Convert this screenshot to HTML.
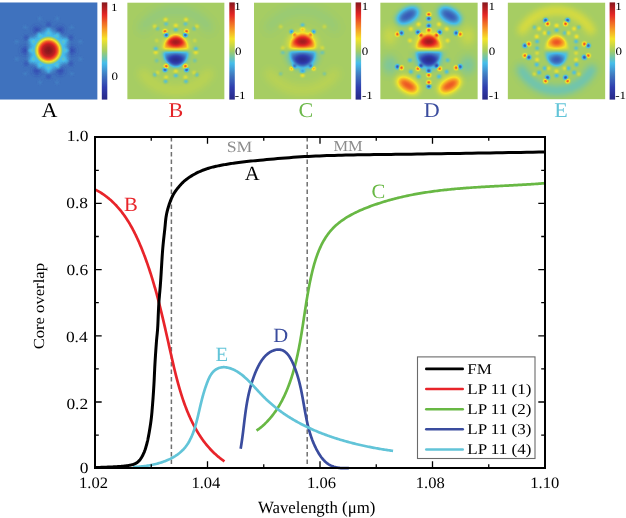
<!DOCTYPE html>
<html><head><meta charset="utf-8"><style>
html,body{margin:0;padding:0;background:#fff;width:626px;height:518px;overflow:hidden}
svg{display:block;font-family:"Liberation Serif",serif;text-rendering:geometricPrecision;will-change:transform}
</style></head><body>
<svg width="626" height="518" viewBox="0 0 626 518">
<defs><radialGradient id="coreG"><stop offset="0" stop-color="rgb(255,255,255)"/><stop offset="0.2" stop-color="rgb(250,250,250)"/><stop offset="0.41" stop-color="rgb(235,235,235)"/><stop offset="0.59" stop-color="rgb(204,204,204)"/><stop offset="0.72" stop-color="rgb(163,163,163)"/><stop offset="0.83" stop-color="rgb(128,128,128)"/><stop offset="0.93" stop-color="rgb(97,97,97)"/><stop offset="1" stop-color="rgb(92,92,92)" stop-opacity="0"/></radialGradient>
<radialGradient id="lobeW"><stop offset="0" stop-color="#fff" stop-opacity="0.93"/><stop offset="0.3" stop-color="#fff" stop-opacity="0.84"/><stop offset="0.55" stop-color="#fff" stop-opacity="0.6"/><stop offset="0.77" stop-color="#fff" stop-opacity="0.25"/><stop offset="0.885" stop-color="#fff" stop-opacity="0.08"/><stop offset="1" stop-color="#fff" stop-opacity="0"/></radialGradient><radialGradient id="lobeK"><stop offset="0" stop-color="#000" stop-opacity="0.93"/><stop offset="0.3" stop-color="#000" stop-opacity="0.84"/><stop offset="0.55" stop-color="#000" stop-opacity="0.6"/><stop offset="0.77" stop-color="#000" stop-opacity="0.25"/><stop offset="0.885" stop-color="#000" stop-opacity="0.08"/><stop offset="1" stop-color="#000" stop-opacity="0"/></radialGradient>
<radialGradient id="domeW" cx="0.5" cy="0.52" r="0.5"><stop offset="0" stop-color="#fff" stop-opacity="0.95"/><stop offset="0.3" stop-color="#fff" stop-opacity="0.85"/><stop offset="0.65" stop-color="#fff" stop-opacity="0.55"/><stop offset="1" stop-color="#fff" stop-opacity="0.3"/></radialGradient><radialGradient id="domeK" cx="0.5" cy="0.52" r="0.5"><stop offset="0" stop-color="#000" stop-opacity="0.95"/><stop offset="0.3" stop-color="#000" stop-opacity="0.85"/><stop offset="0.65" stop-color="#000" stop-opacity="0.55"/><stop offset="1" stop-color="#000" stop-opacity="0.3"/></radialGradient>
<linearGradient id="cbg" x1="0" y1="0" x2="0" y2="1"><stop offset="0" stop-color="#fff"/><stop offset="1" stop-color="#000"/></linearGradient>
<filter id="jet0" filterUnits="userSpaceOnUse" x="0.0" y="2.3" width="107.8" height="97.4" color-interpolation-filters="sRGB"><feComponentTransfer><feFuncR type="table" tableValues="0.1569 0.1647 0.1725 0.1804 0.1882 0.2049 0.2216 0.2382 0.2549 0.2598 0.2647 0.2696 0.2745 0.3676 0.4608 0.5539 0.6471 0.7255 0.8039 0.8824 0.9608 0.9608 0.9608 0.9608 0.9608 0.9441 0.9275 0.9108 0.8941 0.8029 0.7118 0.6206 0.5294"/><feFuncG type="table" tableValues="0.1569 0.1784 0.2000 0.2216 0.2431 0.3000 0.3569 0.4137 0.4706 0.5392 0.6078 0.6765 0.7451 0.7598 0.7745 0.7892 0.8039 0.8265 0.8490 0.8716 0.8941 0.8029 0.7118 0.6206 0.5294 0.4343 0.3392 0.2441 0.1490 0.1353 0.1216 0.1078 0.0941"/><feFuncB type="table" tableValues="0.5294 0.5686 0.6078 0.6471 0.6863 0.7029 0.7196 0.7363 0.7529 0.7951 0.8373 0.8794 0.9216 0.7892 0.6569 0.5245 0.3922 0.3333 0.2745 0.2157 0.1569 0.1549 0.1529 0.1510 0.1490 0.1471 0.1451 0.1431 0.1412 0.1353 0.1294 0.1235 0.1176"/></feComponentTransfer></filter>
<clipPath id="cp0"><rect x="0.0" y="2.3" width="97.6" height="97.4"/></clipPath>
<filter id="jet1" filterUnits="userSpaceOnUse" x="127.2" y="2.4" width="108.1" height="97.0" color-interpolation-filters="sRGB"><feComponentTransfer><feFuncR type="table" tableValues="0.1569 0.1647 0.1725 0.1804 0.1882 0.2049 0.2216 0.2382 0.2549 0.2598 0.2647 0.2696 0.2745 0.3676 0.4608 0.5539 0.6471 0.7255 0.8039 0.8824 0.9608 0.9608 0.9608 0.9608 0.9608 0.9441 0.9275 0.9108 0.8941 0.8029 0.7118 0.6206 0.5294"/><feFuncG type="table" tableValues="0.1569 0.1784 0.2000 0.2216 0.2431 0.3000 0.3569 0.4137 0.4706 0.5392 0.6078 0.6765 0.7451 0.7598 0.7745 0.7892 0.8039 0.8265 0.8490 0.8716 0.8941 0.8029 0.7118 0.6206 0.5294 0.4343 0.3392 0.2441 0.1490 0.1353 0.1216 0.1078 0.0941"/><feFuncB type="table" tableValues="0.5294 0.5686 0.6078 0.6471 0.6863 0.7029 0.7196 0.7363 0.7529 0.7951 0.8373 0.8794 0.9216 0.7892 0.6569 0.5245 0.3922 0.3333 0.2745 0.2157 0.1569 0.1549 0.1529 0.1510 0.1490 0.1471 0.1451 0.1431 0.1412 0.1353 0.1294 0.1235 0.1176"/></feComponentTransfer></filter>
<clipPath id="cp1"><rect x="127.2" y="2.4" width="97.4" height="97.0"/></clipPath>
<filter id="jet2" filterUnits="userSpaceOnUse" x="254.0" y="2.4" width="107.6" height="97.0" color-interpolation-filters="sRGB"><feComponentTransfer><feFuncR type="table" tableValues="0.1569 0.1647 0.1725 0.1804 0.1882 0.2049 0.2216 0.2382 0.2549 0.2598 0.2647 0.2696 0.2745 0.3676 0.4608 0.5539 0.6471 0.7255 0.8039 0.8824 0.9608 0.9608 0.9608 0.9608 0.9608 0.9441 0.9275 0.9108 0.8941 0.8029 0.7118 0.6206 0.5294"/><feFuncG type="table" tableValues="0.1569 0.1784 0.2000 0.2216 0.2431 0.3000 0.3569 0.4137 0.4706 0.5392 0.6078 0.6765 0.7451 0.7598 0.7745 0.7892 0.8039 0.8265 0.8490 0.8716 0.8941 0.8029 0.7118 0.6206 0.5294 0.4343 0.3392 0.2441 0.1490 0.1353 0.1216 0.1078 0.0941"/><feFuncB type="table" tableValues="0.5294 0.5686 0.6078 0.6471 0.6863 0.7029 0.7196 0.7363 0.7529 0.7951 0.8373 0.8794 0.9216 0.7892 0.6569 0.5245 0.3922 0.3333 0.2745 0.2157 0.1569 0.1549 0.1529 0.1510 0.1490 0.1471 0.1451 0.1431 0.1412 0.1353 0.1294 0.1235 0.1176"/></feComponentTransfer></filter>
<clipPath id="cp2"><rect x="254.0" y="2.4" width="97.4" height="97.0"/></clipPath>
<filter id="jet3" filterUnits="userSpaceOnUse" x="380.2" y="2.4" width="108.1" height="97.0" color-interpolation-filters="sRGB"><feComponentTransfer><feFuncR type="table" tableValues="0.1569 0.1647 0.1725 0.1804 0.1882 0.2049 0.2216 0.2382 0.2549 0.2598 0.2647 0.2696 0.2745 0.3676 0.4608 0.5539 0.6471 0.7255 0.8039 0.8824 0.9608 0.9608 0.9608 0.9608 0.9608 0.9441 0.9275 0.9108 0.8941 0.8029 0.7118 0.6206 0.5294"/><feFuncG type="table" tableValues="0.1569 0.1784 0.2000 0.2216 0.2431 0.3000 0.3569 0.4137 0.4706 0.5392 0.6078 0.6765 0.7451 0.7598 0.7745 0.7892 0.8039 0.8265 0.8490 0.8716 0.8941 0.8029 0.7118 0.6206 0.5294 0.4343 0.3392 0.2441 0.1490 0.1353 0.1216 0.1078 0.0941"/><feFuncB type="table" tableValues="0.5294 0.5686 0.6078 0.6471 0.6863 0.7029 0.7196 0.7363 0.7529 0.7951 0.8373 0.8794 0.9216 0.7892 0.6569 0.5245 0.3922 0.3333 0.2745 0.2157 0.1569 0.1549 0.1529 0.1510 0.1490 0.1471 0.1451 0.1431 0.1412 0.1353 0.1294 0.1235 0.1176"/></feComponentTransfer></filter>
<clipPath id="cp3"><rect x="380.2" y="2.4" width="97.6" height="97.0"/></clipPath>
<filter id="jet4" filterUnits="userSpaceOnUse" x="507.6" y="2.4" width="108.0" height="97.0" color-interpolation-filters="sRGB"><feComponentTransfer><feFuncR type="table" tableValues="0.1569 0.1647 0.1725 0.1804 0.1882 0.2049 0.2216 0.2382 0.2549 0.2598 0.2647 0.2696 0.2745 0.3676 0.4608 0.5539 0.6471 0.7255 0.8039 0.8824 0.9608 0.9608 0.9608 0.9608 0.9608 0.9441 0.9275 0.9108 0.8941 0.8029 0.7118 0.6206 0.5294"/><feFuncG type="table" tableValues="0.1569 0.1784 0.2000 0.2216 0.2431 0.3000 0.3569 0.4137 0.4706 0.5392 0.6078 0.6765 0.7451 0.7598 0.7745 0.7892 0.8039 0.8265 0.8490 0.8716 0.8941 0.8029 0.7118 0.6206 0.5294 0.4343 0.3392 0.2441 0.1490 0.1353 0.1216 0.1078 0.0941"/><feFuncB type="table" tableValues="0.5294 0.5686 0.6078 0.6471 0.6863 0.7029 0.7196 0.7363 0.7529 0.7951 0.8373 0.8794 0.9216 0.7892 0.6569 0.5245 0.3922 0.3333 0.2745 0.2157 0.1569 0.1549 0.1529 0.1510 0.1490 0.1471 0.1451 0.1431 0.1412 0.1353 0.1294 0.1235 0.1176"/></feComponentTransfer></filter>
<clipPath id="cp4"><rect x="507.6" y="2.4" width="97.8" height="97.0"/></clipPath>
<filter id="bl9" x="-100%" y="-100%" width="300%" height="300%"><feGaussianBlur stdDeviation="0.9"/></filter><filter id="bl10" x="-100%" y="-100%" width="300%" height="300%"><feGaussianBlur stdDeviation="1.0"/></filter><filter id="bl12" x="-100%" y="-100%" width="300%" height="300%"><feGaussianBlur stdDeviation="1.2"/></filter><filter id="bl15" x="-100%" y="-100%" width="300%" height="300%"><feGaussianBlur stdDeviation="1.5"/></filter><filter id="bl20" x="-100%" y="-100%" width="300%" height="300%"><feGaussianBlur stdDeviation="2.0"/></filter><filter id="bl25" x="-100%" y="-100%" width="300%" height="300%"><feGaussianBlur stdDeviation="2.5"/></filter><filter id="bl33" x="-100%" y="-100%" width="300%" height="300%"><feGaussianBlur stdDeviation="3.3"/></filter><filter id="bl35" x="-100%" y="-100%" width="300%" height="300%"><feGaussianBlur stdDeviation="3.5"/></filter><filter id="bl40" x="-100%" y="-100%" width="300%" height="300%"><feGaussianBlur stdDeviation="4.0"/></filter>
<filter id="bx15y12" x="-100%" y="-100%" width="300%" height="300%"><feGaussianBlur stdDeviation="1.5 1.2"/></filter><filter id="bx16y13" x="-100%" y="-100%" width="300%" height="300%"><feGaussianBlur stdDeviation="1.6 1.3"/></filter><filter id="bx18y14" x="-100%" y="-100%" width="300%" height="300%"><feGaussianBlur stdDeviation="1.8 1.4"/></filter><filter id="bx30y22" x="-100%" y="-100%" width="300%" height="300%"><feGaussianBlur stdDeviation="3.0 2.2"/></filter><filter id="bx30y25" x="-100%" y="-100%" width="300%" height="300%"><feGaussianBlur stdDeviation="3.0 2.5"/></filter><filter id="bx35y25" x="-100%" y="-100%" width="300%" height="300%"><feGaussianBlur stdDeviation="3.5 2.5"/></filter></defs>
<g filter="url(#jet0)"><g clip-path="url(#cp0)"><rect x="0.0" y="2.3" width="97.6" height="97.4" fill="rgb(61,61,61)"/><circle cx="72.00" cy="50.40" r="3.5" fill="rgb(38,38,38)" filter="url(#bl20)"/><circle cx="60.25" cy="70.75" r="3.5" fill="rgb(38,38,38)" filter="url(#bl20)"/><circle cx="36.75" cy="70.75" r="3.5" fill="rgb(38,38,38)" filter="url(#bl20)"/><circle cx="25.00" cy="50.40" r="3.5" fill="rgb(38,38,38)" filter="url(#bl20)"/><circle cx="36.75" cy="30.05" r="3.5" fill="rgb(38,38,38)" filter="url(#bl20)"/><circle cx="60.25" cy="30.05" r="3.5" fill="rgb(38,38,38)" filter="url(#bl20)"/><circle cx="48.50" cy="24.40" r="2.5" fill="rgb(46,46,46)" filter="url(#bl15)"/><circle cx="71.02" cy="37.40" r="2.5" fill="rgb(46,46,46)" filter="url(#bl15)"/><circle cx="71.02" cy="63.40" r="2.5" fill="rgb(46,46,46)" filter="url(#bl15)"/><circle cx="48.50" cy="76.40" r="2.5" fill="rgb(46,46,46)" filter="url(#bl15)"/><circle cx="25.98" cy="63.40" r="2.5" fill="rgb(46,46,46)" filter="url(#bl15)"/><circle cx="25.98" cy="37.40" r="2.5" fill="rgb(46,46,46)" filter="url(#bl15)"/><circle cx="57.04" cy="18.52" r="1.6" fill="rgb(71,71,71)" filter="url(#bl10)"/><circle cx="71.83" cy="27.07" r="1.6" fill="rgb(71,71,71)" filter="url(#bl10)"/><circle cx="80.38" cy="41.86" r="1.6" fill="rgb(71,71,71)" filter="url(#bl10)"/><circle cx="80.38" cy="58.94" r="1.6" fill="rgb(71,71,71)" filter="url(#bl10)"/><circle cx="71.83" cy="73.73" r="1.6" fill="rgb(71,71,71)" filter="url(#bl10)"/><circle cx="57.04" cy="82.28" r="1.6" fill="rgb(71,71,71)" filter="url(#bl10)"/><circle cx="39.96" cy="82.28" r="1.6" fill="rgb(71,71,71)" filter="url(#bl10)"/><circle cx="25.17" cy="73.73" r="1.6" fill="rgb(71,71,71)" filter="url(#bl10)"/><circle cx="16.62" cy="58.94" r="1.6" fill="rgb(71,71,71)" filter="url(#bl10)"/><circle cx="16.62" cy="41.86" r="1.6" fill="rgb(71,71,71)" filter="url(#bl10)"/><circle cx="25.17" cy="27.07" r="1.6" fill="rgb(71,71,71)" filter="url(#bl10)"/><circle cx="39.96" cy="18.52" r="1.6" fill="rgb(71,71,71)" filter="url(#bl10)"/><polygon points="48.50,28.90 67.12,39.65 67.12,61.15 48.50,71.90 29.88,61.15 29.88,39.65" fill="rgb(94,94,94)" filter="url(#bl20)"/><circle cx="48.50" cy="29.90" r="2.0" fill="rgb(92,92,92)" filter="url(#bl12)"/><circle cx="57.75" cy="34.38" r="2.0" fill="rgb(92,92,92)" filter="url(#bl12)"/><circle cx="66.25" cy="40.15" r="2.0" fill="rgb(92,92,92)" filter="url(#bl12)"/><circle cx="67.00" cy="50.40" r="2.0" fill="rgb(92,92,92)" filter="url(#bl12)"/><circle cx="66.25" cy="60.65" r="2.0" fill="rgb(92,92,92)" filter="url(#bl12)"/><circle cx="57.75" cy="66.42" r="2.0" fill="rgb(92,92,92)" filter="url(#bl12)"/><circle cx="48.50" cy="70.90" r="2.0" fill="rgb(92,92,92)" filter="url(#bl12)"/><circle cx="39.25" cy="66.42" r="2.0" fill="rgb(92,92,92)" filter="url(#bl12)"/><circle cx="30.75" cy="60.65" r="2.0" fill="rgb(92,92,92)" filter="url(#bl12)"/><circle cx="30.00" cy="50.40" r="2.0" fill="rgb(92,92,92)" filter="url(#bl12)"/><circle cx="30.75" cy="40.15" r="2.0" fill="rgb(92,92,92)" filter="url(#bl12)"/><circle cx="39.25" cy="34.38" r="2.0" fill="rgb(92,92,92)" filter="url(#bl12)"/><circle cx="48.50" cy="32.90" r="1.7" fill="rgb(110,110,110)" filter="url(#bl10)"/><circle cx="56.50" cy="36.54" r="1.7" fill="rgb(110,110,110)" filter="url(#bl10)"/><circle cx="63.66" cy="41.65" r="1.7" fill="rgb(110,110,110)" filter="url(#bl10)"/><circle cx="64.50" cy="50.40" r="1.7" fill="rgb(110,110,110)" filter="url(#bl10)"/><circle cx="63.66" cy="59.15" r="1.7" fill="rgb(110,110,110)" filter="url(#bl10)"/><circle cx="56.50" cy="64.26" r="1.7" fill="rgb(110,110,110)" filter="url(#bl10)"/><circle cx="48.50" cy="67.90" r="1.7" fill="rgb(110,110,110)" filter="url(#bl10)"/><circle cx="40.50" cy="64.26" r="1.7" fill="rgb(110,110,110)" filter="url(#bl10)"/><circle cx="33.34" cy="59.15" r="1.7" fill="rgb(110,110,110)" filter="url(#bl10)"/><circle cx="32.50" cy="50.40" r="1.7" fill="rgb(110,110,110)" filter="url(#bl10)"/><circle cx="33.34" cy="41.65" r="1.7" fill="rgb(110,110,110)" filter="url(#bl10)"/><circle cx="40.50" cy="36.54" r="1.7" fill="rgb(110,110,110)" filter="url(#bl10)"/><circle cx="48.50" cy="50.40" r="15.5" fill="url(#coreG)"/></g><rect x="101.8" y="2.4" width="5.5" height="97.2" fill="url(#cbg)"/></g>
<g filter="url(#jet1)"><g clip-path="url(#cp1)"><rect x="127.2" y="2.4" width="97.4" height="97.0" fill="rgb(128,128,128)"/><path d="M161.30,49.45 C161.30,42.22 170.00,32.05 175.80,32.05 C181.60,32.05 190.30,42.22 190.30,49.45 Z" fill="url(#domeW)" opacity="0.380" filter="url(#bx30y22)"/><path d="M161.30,51.65 C161.30,58.88 170.00,69.05 175.80,69.05 C181.60,69.05 190.30,58.88 190.30,51.65 Z" fill="url(#domeK)" opacity="0.380" filter="url(#bx30y22)"/><path d="M163.40,48.95 C163.15,43.44 171.09,34.75 175.80,34.75 C180.51,34.75 188.45,43.44 188.20,48.95 Z" fill="url(#domeW)" opacity="1.000" filter="url(#bx15y12)"/><path d="M163.40,52.15 C163.15,57.66 171.09,66.35 175.80,66.35 C180.51,66.35 188.45,57.66 188.20,52.15 Z" fill="url(#domeK)" opacity="1.000" filter="url(#bx15y12)"/><ellipse cx="165.05" cy="31.45" rx="1.70" ry="1.70" fill="#fff" fill-opacity="1.000" filter="url(#bl9)"/><ellipse cx="165.05" cy="69.65" rx="1.70" ry="1.70" fill="#000" fill-opacity="1.000" filter="url(#bl9)"/><ellipse cx="186.55" cy="31.45" rx="1.70" ry="1.70" fill="#fff" fill-opacity="1.000" filter="url(#bl9)"/><ellipse cx="186.55" cy="69.65" rx="1.70" ry="1.70" fill="#000" fill-opacity="1.000" filter="url(#bl9)"/><ellipse cx="166.25" cy="34.95" rx="1.70" ry="1.70" fill="#000" fill-opacity="1.000" filter="url(#bl9)"/><ellipse cx="166.25" cy="66.15" rx="1.70" ry="1.70" fill="#fff" fill-opacity="1.000" filter="url(#bl9)"/><ellipse cx="185.35" cy="34.95" rx="1.70" ry="1.70" fill="#000" fill-opacity="1.000" filter="url(#bl9)"/><ellipse cx="185.35" cy="66.15" rx="1.70" ry="1.70" fill="#fff" fill-opacity="1.000" filter="url(#bl9)"/><ellipse cx="165.60" cy="19.65" rx="1.80" ry="1.60" fill="#fff" fill-opacity="0.350" filter="url(#bl10)"/><ellipse cx="165.60" cy="81.45" rx="1.80" ry="1.60" fill="#000" fill-opacity="0.350" filter="url(#bl10)"/><ellipse cx="186.00" cy="19.65" rx="1.80" ry="1.60" fill="#fff" fill-opacity="0.350" filter="url(#bl10)"/><ellipse cx="186.00" cy="81.45" rx="1.80" ry="1.60" fill="#000" fill-opacity="0.350" filter="url(#bl10)"/><ellipse cx="175.80" cy="25.55" rx="1.90" ry="1.50" fill="#fff" fill-opacity="0.350" filter="url(#bl10)"/><ellipse cx="175.80" cy="75.55" rx="1.90" ry="1.50" fill="#000" fill-opacity="0.350" filter="url(#bl10)"/><ellipse cx="154.80" cy="26.35" rx="1.70" ry="1.70" fill="#fff" fill-opacity="0.300" filter="url(#bl10)"/><ellipse cx="154.80" cy="74.75" rx="1.70" ry="1.70" fill="#000" fill-opacity="0.300" filter="url(#bl10)"/><ellipse cx="196.80" cy="26.35" rx="1.70" ry="1.70" fill="#fff" fill-opacity="0.300" filter="url(#bl10)"/><ellipse cx="196.80" cy="74.75" rx="1.70" ry="1.70" fill="#000" fill-opacity="0.300" filter="url(#bl10)"/><ellipse cx="155.80" cy="52.25" rx="1.90" ry="1.60" fill="#fff" fill-opacity="0.350" filter="url(#bl10)"/><ellipse cx="155.80" cy="48.85" rx="1.90" ry="1.60" fill="#000" fill-opacity="0.350" filter="url(#bl10)"/><ellipse cx="195.80" cy="52.25" rx="1.90" ry="1.60" fill="#fff" fill-opacity="0.350" filter="url(#bl10)"/><ellipse cx="195.80" cy="48.85" rx="1.90" ry="1.60" fill="#000" fill-opacity="0.350" filter="url(#bl10)"/><ellipse cx="166.10" cy="23.95" rx="1.80" ry="1.40" fill="#000" fill-opacity="0.300" filter="url(#bl10)"/><ellipse cx="166.10" cy="77.15" rx="1.80" ry="1.40" fill="#fff" fill-opacity="0.300" filter="url(#bl10)"/><ellipse cx="185.50" cy="23.95" rx="1.80" ry="1.40" fill="#000" fill-opacity="0.300" filter="url(#bl10)"/><ellipse cx="185.50" cy="77.15" rx="1.80" ry="1.40" fill="#fff" fill-opacity="0.300" filter="url(#bl10)"/><ellipse cx="175.80" cy="29.95" rx="2.00" ry="1.40" fill="#000" fill-opacity="0.350" filter="url(#bl10)"/><ellipse cx="175.80" cy="71.15" rx="2.00" ry="1.40" fill="#fff" fill-opacity="0.350" filter="url(#bl10)"/><ellipse cx="157.50" cy="28.55" rx="1.60" ry="1.60" fill="#000" fill-opacity="0.250" filter="url(#bl10)"/><ellipse cx="157.50" cy="72.55" rx="1.60" ry="1.60" fill="#fff" fill-opacity="0.250" filter="url(#bl10)"/><ellipse cx="194.10" cy="28.55" rx="1.60" ry="1.60" fill="#000" fill-opacity="0.250" filter="url(#bl10)"/><ellipse cx="194.10" cy="72.55" rx="1.60" ry="1.60" fill="#fff" fill-opacity="0.250" filter="url(#bl10)"/><ellipse cx="156.80" cy="40.55" rx="1.60" ry="1.60" fill="#fff" fill-opacity="0.200" filter="url(#bl10)"/><ellipse cx="156.80" cy="60.55" rx="1.60" ry="1.60" fill="#000" fill-opacity="0.200" filter="url(#bl10)"/><ellipse cx="194.80" cy="40.55" rx="1.60" ry="1.60" fill="#fff" fill-opacity="0.200" filter="url(#bl10)"/><ellipse cx="194.80" cy="60.55" rx="1.60" ry="1.60" fill="#000" fill-opacity="0.200" filter="url(#bl10)"/><path d="M143.03,27.56 A40.00,40.00 0 0 1 208.57,27.56" fill="none" stroke="#000" stroke-opacity="0.050" stroke-width="10.0" stroke-linecap="round" filter="url(#bl40)"/><path d="M208.57,73.44 A40.00,40.00 0 0 1 143.03,73.44" fill="none" stroke="#fff" stroke-opacity="0.080" stroke-width="10.0" stroke-linecap="round" filter="url(#bl40)"/></g><rect x="229.3" y="2.4" width="5.5" height="97.2" fill="url(#cbg)"/></g>
<g filter="url(#jet2)"><g clip-path="url(#cp2)"><rect x="254.0" y="2.4" width="97.4" height="97.0" fill="rgb(128,128,128)"/><path d="M286.10,49.20 C286.10,39.95 294.35,29.70 302.60,29.70 C310.85,29.70 319.10,39.95 319.10,49.20 Z" fill="url(#domeW)" opacity="0.450" filter="url(#bx35y25)"/><path d="M286.10,51.20 C286.10,60.45 294.35,70.70 302.60,70.70 C310.85,70.70 319.10,60.45 319.10,51.20 Z" fill="url(#domeK)" opacity="0.450" filter="url(#bx35y25)"/><path d="M289.80,48.80 C289.54,42.05 296.46,33.90 302.60,33.90 C308.74,33.90 315.66,42.05 315.40,48.80 Z" fill="url(#domeW)" opacity="1.000" filter="url(#bx18y14)"/><path d="M289.80,51.60 C289.54,58.35 296.46,66.50 302.60,66.50 C308.74,66.50 315.66,58.35 315.40,51.60 Z" fill="url(#domeK)" opacity="1.000" filter="url(#bx18y14)"/><ellipse cx="291.60" cy="31.80" rx="1.50" ry="1.50" fill="#000" fill-opacity="0.750" filter="url(#bl9)"/><ellipse cx="291.60" cy="68.60" rx="1.50" ry="1.50" fill="#fff" fill-opacity="0.750" filter="url(#bl9)"/><ellipse cx="313.60" cy="31.80" rx="1.50" ry="1.50" fill="#000" fill-opacity="0.750" filter="url(#bl9)"/><ellipse cx="313.60" cy="68.60" rx="1.50" ry="1.50" fill="#fff" fill-opacity="0.750" filter="url(#bl9)"/><ellipse cx="294.40" cy="34.40" rx="1.50" ry="1.50" fill="#fff" fill-opacity="0.750" filter="url(#bl9)"/><ellipse cx="294.40" cy="66.00" rx="1.50" ry="1.50" fill="#000" fill-opacity="0.750" filter="url(#bl9)"/><ellipse cx="310.80" cy="34.40" rx="1.50" ry="1.50" fill="#fff" fill-opacity="0.750" filter="url(#bl9)"/><ellipse cx="310.80" cy="66.00" rx="1.50" ry="1.50" fill="#000" fill-opacity="0.750" filter="url(#bl9)"/><ellipse cx="302.60" cy="25.10" rx="1.80" ry="1.50" fill="#000" fill-opacity="0.350" filter="url(#bl10)"/><ellipse cx="302.60" cy="75.30" rx="1.80" ry="1.50" fill="#fff" fill-opacity="0.350" filter="url(#bl10)"/><ellipse cx="302.60" cy="29.20" rx="2.20" ry="1.60" fill="#fff" fill-opacity="0.400" filter="url(#bl10)"/><ellipse cx="302.60" cy="71.20" rx="2.20" ry="1.60" fill="#000" fill-opacity="0.400" filter="url(#bl10)"/><ellipse cx="280.70" cy="26.60" rx="1.60" ry="1.60" fill="#fff" fill-opacity="0.200" filter="url(#bl10)"/><ellipse cx="280.70" cy="73.80" rx="1.60" ry="1.60" fill="#000" fill-opacity="0.200" filter="url(#bl10)"/><ellipse cx="324.50" cy="26.60" rx="1.60" ry="1.60" fill="#fff" fill-opacity="0.200" filter="url(#bl10)"/><ellipse cx="324.50" cy="73.80" rx="1.60" ry="1.60" fill="#000" fill-opacity="0.200" filter="url(#bl10)"/><ellipse cx="282.80" cy="47.90" rx="1.80" ry="1.60" fill="#fff" fill-opacity="0.200" filter="url(#bl10)"/><ellipse cx="282.80" cy="52.50" rx="1.80" ry="1.60" fill="#000" fill-opacity="0.200" filter="url(#bl10)"/><ellipse cx="322.40" cy="47.90" rx="1.80" ry="1.60" fill="#fff" fill-opacity="0.200" filter="url(#bl10)"/><ellipse cx="322.40" cy="52.50" rx="1.80" ry="1.60" fill="#000" fill-opacity="0.200" filter="url(#bl10)"/><path d="M269.53,27.56 A40.00,40.00 0 0 1 335.07,27.56" fill="none" stroke="#000" stroke-opacity="0.040" stroke-width="10.0" stroke-linecap="round" filter="url(#bl40)"/><path d="M335.07,73.44 A40.00,40.00 0 0 1 269.53,73.44" fill="none" stroke="#fff" stroke-opacity="0.070" stroke-width="10.0" stroke-linecap="round" filter="url(#bl40)"/></g><rect x="355.6" y="2.4" width="5.5" height="97.2" fill="url(#cbg)"/></g>
<g filter="url(#jet3)"><g clip-path="url(#cp3)"><rect x="380.2" y="2.4" width="97.6" height="97.0" fill="rgb(128,128,128)"/><path d="M412.80,49.40 C412.80,39.90 421.60,29.40 428.80,29.40 C436.00,29.40 444.80,39.90 444.80,49.40 Z" fill="url(#domeW)" opacity="0.400" filter="url(#bx30y25)"/><path d="M412.80,51.40 C412.80,60.90 421.60,71.40 428.80,71.40 C436.00,71.40 444.80,60.90 444.80,51.40 Z" fill="url(#domeK)" opacity="0.400" filter="url(#bx30y25)"/><path d="M416.30,48.80 C416.05,42.98 423.80,33.90 428.80,33.90 C433.80,33.90 441.55,42.98 441.30,48.80 Z" fill="url(#domeW)" opacity="1.000" filter="url(#bx16y13)"/><path d="M416.30,52.00 C416.05,57.82 423.80,66.90 428.80,66.90 C433.80,66.90 441.55,57.82 441.30,52.00 Z" fill="url(#domeK)" opacity="1.000" filter="url(#bx16y13)"/><ellipse cx="407.80" cy="15.60" rx="11.50" ry="5.80" fill="#000" fill-opacity="0.680" filter="url(#bl33)" transform="rotate(-31.0 407.80 15.60)"/><ellipse cx="407.80" cy="85.20" rx="11.50" ry="5.80" fill="#fff" fill-opacity="0.680" filter="url(#bl33)" transform="rotate(31.0 407.80 85.20)"/><ellipse cx="449.80" cy="15.60" rx="11.50" ry="5.80" fill="#000" fill-opacity="0.680" filter="url(#bl33)" transform="rotate(31.0 449.80 15.60)"/><ellipse cx="449.80" cy="85.20" rx="11.50" ry="5.80" fill="#fff" fill-opacity="0.680" filter="url(#bl33)" transform="rotate(-31.0 449.80 85.20)"/><ellipse cx="397.60" cy="34.10" rx="1.70" ry="1.70" fill="#fff" fill-opacity="1.000" filter="url(#bl9)"/><ellipse cx="397.60" cy="66.70" rx="1.70" ry="1.70" fill="#000" fill-opacity="1.000" filter="url(#bl9)"/><ellipse cx="460.00" cy="34.10" rx="1.70" ry="1.70" fill="#fff" fill-opacity="1.000" filter="url(#bl9)"/><ellipse cx="460.00" cy="66.70" rx="1.70" ry="1.70" fill="#000" fill-opacity="1.000" filter="url(#bl9)"/><ellipse cx="401.40" cy="33.00" rx="1.70" ry="1.70" fill="#000" fill-opacity="1.000" filter="url(#bl9)"/><ellipse cx="401.40" cy="67.80" rx="1.70" ry="1.70" fill="#fff" fill-opacity="1.000" filter="url(#bl9)"/><ellipse cx="456.20" cy="33.00" rx="1.70" ry="1.70" fill="#000" fill-opacity="1.000" filter="url(#bl9)"/><ellipse cx="456.20" cy="67.80" rx="1.70" ry="1.70" fill="#fff" fill-opacity="1.000" filter="url(#bl9)"/><ellipse cx="428.80" cy="14.50" rx="1.70" ry="1.70" fill="#fff" fill-opacity="1.000" filter="url(#bl9)"/><ellipse cx="428.80" cy="86.30" rx="1.70" ry="1.70" fill="#000" fill-opacity="1.000" filter="url(#bl9)"/><ellipse cx="428.80" cy="18.40" rx="1.70" ry="1.70" fill="#000" fill-opacity="1.000" filter="url(#bl9)"/><ellipse cx="428.80" cy="82.40" rx="1.70" ry="1.70" fill="#fff" fill-opacity="1.000" filter="url(#bl9)"/><ellipse cx="428.80" cy="25.90" rx="1.70" ry="1.70" fill="#000" fill-opacity="1.000" filter="url(#bl9)"/><ellipse cx="428.80" cy="74.90" rx="1.70" ry="1.70" fill="#fff" fill-opacity="1.000" filter="url(#bl9)"/><ellipse cx="428.80" cy="29.90" rx="1.70" ry="1.70" fill="#fff" fill-opacity="1.000" filter="url(#bl9)"/><ellipse cx="428.80" cy="70.90" rx="1.70" ry="1.70" fill="#000" fill-opacity="1.000" filter="url(#bl9)"/><ellipse cx="418.00" cy="32.20" rx="1.70" ry="1.70" fill="#000" fill-opacity="1.000" filter="url(#bl9)"/><ellipse cx="418.00" cy="68.60" rx="1.70" ry="1.70" fill="#fff" fill-opacity="1.000" filter="url(#bl9)"/><ellipse cx="439.60" cy="32.20" rx="1.70" ry="1.70" fill="#000" fill-opacity="1.000" filter="url(#bl9)"/><ellipse cx="439.60" cy="68.60" rx="1.70" ry="1.70" fill="#fff" fill-opacity="1.000" filter="url(#bl9)"/><ellipse cx="420.90" cy="35.10" rx="1.70" ry="1.70" fill="#fff" fill-opacity="1.000" filter="url(#bl9)"/><ellipse cx="420.90" cy="65.70" rx="1.70" ry="1.70" fill="#000" fill-opacity="1.000" filter="url(#bl9)"/><ellipse cx="436.70" cy="35.10" rx="1.70" ry="1.70" fill="#fff" fill-opacity="1.000" filter="url(#bl9)"/><ellipse cx="436.70" cy="65.70" rx="1.70" ry="1.70" fill="#000" fill-opacity="1.000" filter="url(#bl9)"/><ellipse cx="410.90" cy="29.00" rx="1.80" ry="1.80" fill="#fff" fill-opacity="0.350" filter="url(#bl10)"/><ellipse cx="410.90" cy="71.80" rx="1.80" ry="1.80" fill="#000" fill-opacity="0.350" filter="url(#bl10)"/><ellipse cx="446.70" cy="29.00" rx="1.80" ry="1.80" fill="#fff" fill-opacity="0.350" filter="url(#bl10)"/><ellipse cx="446.70" cy="71.80" rx="1.80" ry="1.80" fill="#000" fill-opacity="0.350" filter="url(#bl10)"/><ellipse cx="418.60" cy="24.20" rx="1.80" ry="1.80" fill="#fff" fill-opacity="0.350" filter="url(#bl10)"/><ellipse cx="418.60" cy="76.60" rx="1.80" ry="1.80" fill="#000" fill-opacity="0.350" filter="url(#bl10)"/><ellipse cx="439.00" cy="24.20" rx="1.80" ry="1.80" fill="#fff" fill-opacity="0.350" filter="url(#bl10)"/><ellipse cx="439.00" cy="76.60" rx="1.80" ry="1.80" fill="#000" fill-opacity="0.350" filter="url(#bl10)"/><ellipse cx="409.90" cy="40.60" rx="1.80" ry="1.80" fill="#fff" fill-opacity="0.300" filter="url(#bl10)"/><ellipse cx="409.90" cy="60.20" rx="1.80" ry="1.80" fill="#000" fill-opacity="0.300" filter="url(#bl10)"/><ellipse cx="447.70" cy="40.60" rx="1.80" ry="1.80" fill="#fff" fill-opacity="0.300" filter="url(#bl10)"/><ellipse cx="447.70" cy="60.20" rx="1.80" ry="1.80" fill="#000" fill-opacity="0.300" filter="url(#bl10)"/><ellipse cx="389.80" cy="35.80" rx="7.00" ry="9.00" fill="#fff" fill-opacity="0.120" filter="url(#bl40)"/><ellipse cx="389.80" cy="65.00" rx="7.00" ry="9.00" fill="#000" fill-opacity="0.120" filter="url(#bl40)"/><ellipse cx="467.80" cy="35.80" rx="7.00" ry="9.00" fill="#fff" fill-opacity="0.120" filter="url(#bl40)"/><ellipse cx="467.80" cy="65.00" rx="7.00" ry="9.00" fill="#000" fill-opacity="0.120" filter="url(#bl40)"/></g><rect x="482.3" y="2.4" width="5.5" height="97.2" fill="url(#cbg)"/></g>
<g filter="url(#jet4)"><g clip-path="url(#cp4)"><rect x="507.6" y="2.4" width="97.8" height="97.0" fill="rgb(128,128,128)"/><path d="M521.96,30.60 A40.00,40.00 0 0 1 591.24,30.60" fill="none" stroke="#fff" stroke-opacity="0.190" stroke-width="8.0" stroke-linecap="round" filter="url(#bl35)"/><path d="M591.92,69.38 A40.00,40.00 0 0 1 521.28,69.38" fill="none" stroke="#000" stroke-opacity="0.170" stroke-width="9.0" stroke-linecap="round" filter="url(#bl35)"/><path d="M545.10,49.30 C544.87,42.60 551.43,34.60 556.60,34.60 C561.77,34.60 568.33,42.60 568.10,49.30 Z" fill="url(#domeW)" opacity="0.720" filter="url(#bx18y14)"/><path d="M545.10,51.90 C544.87,58.60 551.43,66.60 556.60,66.60 C561.77,66.60 568.33,58.60 568.10,51.90 Z" fill="url(#domeK)" opacity="0.720" filter="url(#bx18y14)"/><ellipse cx="545.60" cy="20.20" rx="1.70" ry="1.70" fill="#000" fill-opacity="1.000" filter="url(#bl9)"/><ellipse cx="545.60" cy="81.00" rx="1.70" ry="1.70" fill="#fff" fill-opacity="1.000" filter="url(#bl9)"/><ellipse cx="567.60" cy="20.20" rx="1.70" ry="1.70" fill="#000" fill-opacity="1.000" filter="url(#bl9)"/><ellipse cx="567.60" cy="81.00" rx="1.70" ry="1.70" fill="#fff" fill-opacity="1.000" filter="url(#bl9)"/><ellipse cx="547.60" cy="23.70" rx="1.70" ry="1.70" fill="#fff" fill-opacity="1.000" filter="url(#bl9)"/><ellipse cx="547.60" cy="77.50" rx="1.70" ry="1.70" fill="#000" fill-opacity="1.000" filter="url(#bl9)"/><ellipse cx="565.60" cy="23.70" rx="1.70" ry="1.70" fill="#fff" fill-opacity="1.000" filter="url(#bl9)"/><ellipse cx="565.60" cy="77.50" rx="1.70" ry="1.70" fill="#000" fill-opacity="1.000" filter="url(#bl9)"/><ellipse cx="525.00" cy="45.60" rx="1.70" ry="1.70" fill="#000" fill-opacity="1.000" filter="url(#bl9)"/><ellipse cx="525.00" cy="55.60" rx="1.70" ry="1.70" fill="#fff" fill-opacity="1.000" filter="url(#bl9)"/><ellipse cx="588.20" cy="45.60" rx="1.70" ry="1.70" fill="#000" fill-opacity="1.000" filter="url(#bl9)"/><ellipse cx="588.20" cy="55.60" rx="1.70" ry="1.70" fill="#fff" fill-opacity="1.000" filter="url(#bl9)"/><ellipse cx="528.80" cy="44.00" rx="1.70" ry="1.70" fill="#fff" fill-opacity="1.000" filter="url(#bl9)"/><ellipse cx="528.80" cy="57.20" rx="1.70" ry="1.70" fill="#000" fill-opacity="1.000" filter="url(#bl9)"/><ellipse cx="584.40" cy="44.00" rx="1.70" ry="1.70" fill="#fff" fill-opacity="1.000" filter="url(#bl9)"/><ellipse cx="584.40" cy="57.20" rx="1.70" ry="1.70" fill="#000" fill-opacity="1.000" filter="url(#bl9)"/><ellipse cx="539.10" cy="28.70" rx="1.80" ry="1.80" fill="#fff" fill-opacity="0.350" filter="url(#bl10)"/><ellipse cx="539.10" cy="72.50" rx="1.80" ry="1.80" fill="#000" fill-opacity="0.350" filter="url(#bl10)"/><ellipse cx="574.10" cy="28.70" rx="1.80" ry="1.80" fill="#fff" fill-opacity="0.350" filter="url(#bl10)"/><ellipse cx="574.10" cy="72.50" rx="1.80" ry="1.80" fill="#000" fill-opacity="0.350" filter="url(#bl10)"/><ellipse cx="544.80" cy="33.00" rx="1.80" ry="1.80" fill="#fff" fill-opacity="0.350" filter="url(#bl10)"/><ellipse cx="544.80" cy="68.20" rx="1.80" ry="1.80" fill="#000" fill-opacity="0.350" filter="url(#bl10)"/><ellipse cx="568.40" cy="33.00" rx="1.80" ry="1.80" fill="#fff" fill-opacity="0.350" filter="url(#bl10)"/><ellipse cx="568.40" cy="68.20" rx="1.80" ry="1.80" fill="#000" fill-opacity="0.350" filter="url(#bl10)"/><ellipse cx="536.70" cy="36.60" rx="1.80" ry="1.80" fill="#fff" fill-opacity="0.350" filter="url(#bl10)"/><ellipse cx="536.70" cy="64.60" rx="1.80" ry="1.80" fill="#000" fill-opacity="0.350" filter="url(#bl10)"/><ellipse cx="576.50" cy="36.60" rx="1.80" ry="1.80" fill="#fff" fill-opacity="0.350" filter="url(#bl10)"/><ellipse cx="576.50" cy="64.60" rx="1.80" ry="1.80" fill="#000" fill-opacity="0.350" filter="url(#bl10)"/><ellipse cx="556.60" cy="25.60" rx="1.90" ry="1.60" fill="#fff" fill-opacity="0.400" filter="url(#bl10)"/><ellipse cx="556.60" cy="75.60" rx="1.90" ry="1.60" fill="#000" fill-opacity="0.400" filter="url(#bl10)"/><ellipse cx="537.10" cy="53.00" rx="1.60" ry="1.60" fill="#fff" fill-opacity="0.300" filter="url(#bl10)"/><ellipse cx="537.10" cy="48.20" rx="1.60" ry="1.60" fill="#000" fill-opacity="0.300" filter="url(#bl10)"/><ellipse cx="576.10" cy="53.00" rx="1.60" ry="1.60" fill="#fff" fill-opacity="0.300" filter="url(#bl10)"/><ellipse cx="576.10" cy="48.20" rx="1.60" ry="1.60" fill="#000" fill-opacity="0.300" filter="url(#bl10)"/><ellipse cx="537.10" cy="59.80" rx="1.70" ry="1.70" fill="#fff" fill-opacity="0.350" filter="url(#bl10)"/><ellipse cx="537.10" cy="41.40" rx="1.70" ry="1.70" fill="#000" fill-opacity="0.350" filter="url(#bl10)"/><ellipse cx="576.10" cy="59.80" rx="1.70" ry="1.70" fill="#fff" fill-opacity="0.350" filter="url(#bl10)"/><ellipse cx="576.10" cy="41.40" rx="1.70" ry="1.70" fill="#000" fill-opacity="0.350" filter="url(#bl10)"/><ellipse cx="534.30" cy="27.10" rx="1.60" ry="1.60" fill="#000" fill-opacity="0.300" filter="url(#bl10)"/><ellipse cx="534.30" cy="74.10" rx="1.60" ry="1.60" fill="#fff" fill-opacity="0.300" filter="url(#bl10)"/><ellipse cx="578.90" cy="27.10" rx="1.60" ry="1.60" fill="#000" fill-opacity="0.300" filter="url(#bl10)"/><ellipse cx="578.90" cy="74.10" rx="1.60" ry="1.60" fill="#fff" fill-opacity="0.300" filter="url(#bl10)"/><ellipse cx="548.50" cy="32.90" rx="1.60" ry="1.60" fill="#000" fill-opacity="0.300" filter="url(#bl10)"/><ellipse cx="548.50" cy="68.30" rx="1.60" ry="1.60" fill="#fff" fill-opacity="0.300" filter="url(#bl10)"/><ellipse cx="564.70" cy="32.90" rx="1.60" ry="1.60" fill="#000" fill-opacity="0.300" filter="url(#bl10)"/><ellipse cx="564.70" cy="68.30" rx="1.60" ry="1.60" fill="#fff" fill-opacity="0.300" filter="url(#bl10)"/><ellipse cx="556.60" cy="30.00" rx="1.80" ry="1.50" fill="#000" fill-opacity="0.350" filter="url(#bl10)"/><ellipse cx="556.60" cy="71.20" rx="1.80" ry="1.50" fill="#fff" fill-opacity="0.350" filter="url(#bl10)"/></g><rect x="609.6" y="2.4" width="5.5" height="97.2" fill="url(#cbg)"/></g>
<line x1="171.4" y1="137" x2="171.4" y2="468" stroke="#707070" stroke-width="1.5" stroke-dasharray="4.5,3"/>
<line x1="307.2" y1="137" x2="307.2" y2="468" stroke="#707070" stroke-width="1.5" stroke-dasharray="4.5,3"/>
<path d="M95.29,189.59 L96.23,190.08 L97.17,190.58 L98.09,191.09 L99.00,191.62 L99.90,192.15 L100.79,192.70 L101.67,193.26 L102.54,193.83 L103.39,194.41 L104.24,195.00 L105.08,195.60 L105.91,196.22 L106.72,196.84 L107.53,197.47 L108.33,198.11 L109.11,198.77 L109.89,199.43 L110.66,200.10 L111.42,200.78 L112.17,201.47 L112.91,202.17 L113.64,202.88 L114.36,203.59 L115.07,204.32 L115.78,205.05 L116.47,205.79 L117.16,206.54 L117.84,207.30 L118.51,208.07 L119.17,208.84 L119.82,209.62 L120.47,210.41 L121.10,211.21 L121.73,212.01 L122.35,212.82 L122.97,213.64 L123.57,214.46 L124.17,215.29 L124.76,216.13 L125.35,216.97 L125.92,217.82 L126.49,218.68 L127.05,219.54 L127.61,220.40 L128.16,221.28 L128.70,222.15 L129.24,223.04 L129.76,223.92 L130.29,224.82 L130.80,225.71 L131.31,226.62 L131.82,227.52 L132.31,228.43 L132.81,229.35 L133.29,230.27 L133.77,231.19 L134.25,232.12 L134.72,233.05 L135.18,233.98 L135.64,234.92 L136.09,235.86 L136.54,236.80 L136.98,237.75 L137.42,238.70 L137.85,239.65 L138.28,240.61 L138.71,241.56 L139.13,242.52 L139.54,243.48 L139.95,244.44 L140.36,245.41 L140.76,246.37 L141.16,247.34 L141.56,248.31 L141.95,249.28 L142.34,250.25 L142.72,251.22 L143.10,252.19 L143.48,253.17 L143.85,254.14 L144.22,255.11 L144.59,256.09 L144.95,257.06 L145.31,258.04 L145.67,259.01 L146.03,259.99 L146.38,260.97 L146.73,261.94 L147.07,262.92 L147.42,263.90 L147.76,264.88 L148.09,265.85 L148.43,266.83 L148.76,267.81 L149.09,268.79 L149.41,269.77 L149.74,270.76 L150.06,271.74 L150.37,272.72 L150.69,273.70 L151.00,274.68 L151.31,275.67 L151.62,276.65 L151.93,277.64 L152.23,278.62 L152.53,279.61 L152.83,280.59 L153.13,281.58 L153.42,282.56 L153.71,283.55 L154.00,284.54 L154.29,285.53 L154.57,286.51 L154.86,287.50 L155.14,288.49 L155.42,289.48 L155.69,290.47 L155.97,291.46 L156.24,292.45 L156.52,293.44 L156.79,294.44 L157.05,295.43 L157.32,296.42 L157.58,297.41 L157.85,298.41 L158.11,299.40 L158.37,300.40 L158.63,301.39 L158.88,302.39 L159.14,303.38 L159.39,304.38 L159.65,305.38 L159.90,306.37 L160.15,307.37 L160.40,308.37 L160.64,309.37 L160.89,310.37 L161.14,311.36 L161.38,312.36 L161.62,313.36 L161.86,314.36 L162.10,315.37 L162.34,316.37 L162.58,317.37 L162.82,318.37 L163.06,319.37 L163.29,320.38 L163.53,321.38 L163.76,322.38 L164.00,323.39 L164.23,324.39 L164.46,325.40 L164.70,326.40 L164.93,327.41 L165.16,328.42 L165.39,329.42 L165.62,330.43 L165.85,331.44 L166.08,332.45 L166.30,333.45 L166.53,334.46 L166.76,335.47 L166.99,336.48 L167.22,337.49 L167.44,338.50 L167.67,339.51 L167.90,340.53 L168.13,341.54 L168.35,342.55 L168.58,343.56 L168.81,344.58 L169.03,345.59 L169.26,346.60 L169.49,347.62 L169.72,348.63 L169.94,349.65 L170.17,350.66 L170.40,351.68 L170.63,352.69 L170.86,353.71 L171.09,354.73 L171.32,355.74 L171.55,356.76 L171.78,357.78 L172.01,358.80 L172.24,359.82 L172.48,360.84 L172.71,361.85 L172.95,362.87 L173.18,363.89 L173.42,364.91 L173.66,365.93 L173.90,366.95 L174.14,367.96 L174.39,368.98 L174.63,370.00 L174.88,371.01 L175.13,372.03 L175.38,373.05 L175.63,374.06 L175.88,375.08 L176.14,376.09 L176.40,377.10 L176.66,378.11 L176.92,379.13 L177.19,380.14 L177.46,381.15 L177.73,382.15 L178.00,383.16 L178.28,384.17 L178.56,385.17 L178.84,386.17 L179.12,387.18 L179.41,388.18 L179.70,389.18 L180.00,390.17 L180.29,391.17 L180.60,392.16 L180.90,393.16 L181.21,394.15 L181.52,395.14 L181.84,396.13 L182.16,397.11 L182.48,398.10 L182.81,399.08 L183.14,400.06 L183.47,401.04 L183.81,402.01 L184.16,402.98 L184.51,403.96 L184.86,404.92 L185.22,405.89 L185.58,406.85 L185.95,407.82 L186.32,408.78 L186.69,409.73 L187.08,410.69 L187.46,411.64 L187.85,412.58 L188.25,413.53 L188.65,414.47 L189.06,415.41 L189.47,416.35 L189.89,417.28 L190.32,418.21 L190.75,419.14 L191.18,420.06 L191.63,420.98 L192.07,421.90 L192.53,422.82 L192.99,423.73 L193.45,424.63 L193.93,425.54 L194.40,426.44 L194.89,427.33 L195.38,428.23 L195.88,429.12 L196.39,430.00 L196.90,430.88 L197.42,431.76 L197.94,432.63 L198.48,433.50 L199.02,434.36 L199.56,435.22 L200.12,436.08 L200.68,436.93 L201.26,437.77 L201.84,438.61 L202.42,439.44 L203.02,440.27 L203.62,441.10 L204.24,441.91 L204.86,442.72 L205.49,443.53 L206.13,444.33 L206.78,445.12 L207.43,445.91 L208.10,446.69 L208.78,447.46 L209.46,448.23 L210.16,448.99 L210.86,449.74 L211.58,450.49 L212.30,451.23 L213.04,451.96 L213.78,452.68 L214.54,453.40 L215.30,454.11 L216.08,454.81 L216.87,455.50 L217.67,456.19 L218.48,456.87 L219.30,457.53 L220.13,458.19 L220.97,458.84 L221.83,459.49 L222.70,460.12 L223.58,460.74 L224.47,461.36" fill="none" stroke="#e8242a" stroke-width="2.7" stroke-linecap="butt" stroke-linejoin="round"/>
<path d="M256.58,430.61 L257.82,429.72 L259.04,428.81 L260.23,427.88 L261.39,426.92 L262.53,425.95 L263.65,424.95 L264.74,423.94 L265.81,422.90 L266.86,421.85 L267.88,420.78 L268.88,419.69 L269.86,418.59 L270.82,417.47 L271.75,416.33 L272.67,415.17 L273.57,414.00 L274.44,412.82 L275.30,411.62 L276.13,410.41 L276.95,409.19 L277.74,407.95 L278.52,406.70 L279.28,405.44 L280.03,404.17 L280.75,402.88 L281.46,401.59 L282.15,400.28 L282.82,398.97 L283.48,397.65 L284.13,396.32 L284.75,394.98 L285.36,393.64 L285.96,392.29 L286.54,390.93 L287.11,389.56 L287.67,388.19 L288.21,386.82 L288.74,385.44 L289.25,384.06 L289.75,382.67 L290.24,381.29 L290.72,379.89 L291.19,378.50 L291.65,377.10 L292.09,375.70 L292.52,374.30 L292.95,372.90 L293.36,371.49 L293.76,370.08 L294.16,368.67 L294.54,367.26 L294.92,365.84 L295.28,364.42 L295.64,363.00 L295.99,361.58 L296.33,360.15 L296.66,358.72 L296.99,357.29 L297.31,355.86 L297.62,354.43 L297.92,352.99 L298.22,351.55 L298.51,350.11 L298.80,348.67 L299.08,347.23 L299.35,345.78 L299.62,344.34 L299.89,342.89 L300.15,341.44 L300.40,339.98 L300.66,338.53 L300.90,337.08 L301.15,335.62 L301.39,334.16 L301.63,332.70 L301.86,331.24 L302.10,329.78 L302.33,328.32 L302.56,326.85 L302.78,325.39 L303.01,323.92 L303.23,322.45 L303.46,320.98 L303.68,319.52 L303.90,318.04 L304.13,316.57 L304.35,315.10 L304.57,313.63 L304.80,312.15 L305.02,310.68 L305.25,309.20 L305.48,307.73 L305.71,306.25 L305.94,304.77 L306.17,303.29 L306.41,301.81 L306.65,300.34 L306.89,298.86 L307.14,297.38 L307.39,295.90 L307.64,294.42 L307.90,292.93 L308.16,291.45 L308.43,289.97 L308.70,288.49 L308.98,287.01 L309.26,285.53 L309.55,284.05 L309.85,282.57 L310.15,281.09 L310.46,279.60 L310.77,278.12 L311.10,276.64 L311.43,275.16 L311.77,273.69 L312.11,272.21 L312.47,270.74 L312.84,269.28 L313.22,267.81 L313.61,266.35 L314.01,264.90 L314.42,263.46 L314.85,262.02 L315.29,260.59 L315.74,259.16 L316.21,257.75 L316.69,256.34 L317.19,254.95 L317.71,253.57 L318.24,252.19 L318.79,250.83 L319.35,249.48 L319.94,248.15 L320.54,246.82 L321.16,245.52 L321.80,244.22 L322.46,242.95 L323.15,241.69 L323.85,240.44 L324.58,239.21 L325.33,238.01 L326.10,236.82 L326.89,235.65 L327.71,234.49 L328.56,233.36 L329.43,232.25 L330.32,231.17 L331.24,230.10 L332.19,229.06 L333.16,228.04 L334.16,227.04 L335.19,226.07 L336.24,225.12 L337.31,224.19 L338.41,223.28 L339.53,222.39 L340.66,221.52 L341.82,220.67 L343.00,219.84 L344.20,219.02 L345.42,218.23 L346.65,217.45 L347.90,216.70 L349.17,215.96 L350.45,215.23 L351.74,214.53 L353.05,213.83 L354.37,213.16 L355.70,212.50 L357.04,211.85 L358.40,211.22 L359.76,210.60 L361.13,209.99 L362.51,209.40 L363.90,208.82 L365.29,208.25 L366.69,207.70 L368.09,207.15 L369.50,206.62 L370.91,206.10 L372.32,205.58 L373.74,205.08 L375.16,204.59 L376.57,204.10 L377.99,203.63 L379.42,203.16 L380.84,202.70 L382.26,202.25 L383.69,201.81 L385.12,201.38 L386.55,200.96 L387.98,200.55 L389.41,200.14 L390.84,199.75 L392.28,199.36 L393.72,198.98 L395.15,198.61 L396.59,198.24 L398.04,197.88 L399.48,197.54 L400.92,197.19 L402.37,196.86 L403.81,196.53 L405.26,196.21 L406.71,195.90 L408.16,195.60 L409.61,195.30 L411.06,195.01 L412.51,194.72 L413.97,194.44 L415.42,194.17 L416.88,193.91 L418.33,193.65 L419.79,193.40 L421.25,193.15 L422.71,192.91 L424.17,192.67 L425.63,192.45 L427.10,192.22 L428.56,192.00 L430.03,191.79 L431.49,191.59 L432.96,191.38 L434.42,191.19 L435.89,191.00 L437.36,190.81 L438.83,190.63 L440.30,190.45 L441.77,190.28 L443.24,190.11 L444.71,189.95 L446.18,189.79 L447.65,189.63 L449.13,189.48 L450.60,189.33 L452.08,189.19 L453.55,189.05 L455.02,188.91 L456.50,188.78 L457.98,188.65 L459.45,188.53 L460.93,188.40 L462.41,188.28 L463.88,188.17 L465.36,188.05 L466.84,187.94 L468.31,187.83 L469.79,187.73 L471.27,187.62 L472.75,187.52 L474.23,187.42 L475.71,187.33 L477.19,187.23 L478.66,187.14 L480.14,187.05 L481.62,186.96 L483.10,186.87 L484.58,186.79 L486.06,186.70 L487.54,186.62 L489.01,186.54 L490.49,186.46 L491.97,186.38 L493.45,186.30 L494.93,186.22 L496.40,186.14 L497.88,186.06 L499.36,185.99 L500.84,185.91 L502.31,185.83 L503.79,185.76 L505.26,185.68 L506.74,185.60 L508.22,185.53 L509.69,185.45 L511.16,185.37 L512.64,185.29 L514.11,185.21 L515.58,185.14 L517.06,185.06 L518.53,184.97 L520.00,184.89 L521.47,184.81 L522.94,184.72 L524.41,184.64 L525.88,184.55 L527.34,184.46 L528.81,184.37 L530.28,184.28 L531.74,184.18 L533.21,184.08 L534.67,183.99 L536.13,183.88 L537.60,183.78 L539.06,183.67 L540.52,183.57 L541.98,183.45 L543.43,183.34 L544.89,183.22" fill="none" stroke="#68b844" stroke-width="2.7" stroke-linecap="butt" stroke-linejoin="round"/>
<path d="M240.64,448.78 L240.79,447.86 L240.95,446.94 L241.09,446.03 L241.24,445.12 L241.38,444.21 L241.52,443.30 L241.65,442.40 L241.78,441.49 L241.91,440.59 L242.04,439.70 L242.17,438.80 L242.29,437.91 L242.41,437.02 L242.52,436.13 L242.64,435.24 L242.75,434.36 L242.87,433.48 L242.98,432.60 L243.09,431.72 L243.20,430.84 L243.30,429.96 L243.41,429.09 L243.51,428.22 L243.62,427.35 L243.72,426.48 L243.83,425.61 L243.93,424.74 L244.03,423.88 L244.14,423.01 L244.24,422.15 L244.35,421.29 L244.45,420.43 L244.56,419.57 L244.66,418.71 L244.77,417.85 L244.88,417.00 L244.99,416.14 L245.10,415.28 L245.21,414.43 L245.32,413.58 L245.44,412.72 L245.56,411.87 L245.67,411.02 L245.80,410.17 L245.92,409.32 L246.05,408.47 L246.17,407.62 L246.31,406.77 L246.44,405.92 L246.58,405.07 L246.72,404.22 L246.86,403.38 L247.01,402.53 L247.16,401.68 L247.31,400.83 L247.47,399.98 L247.64,399.13 L247.80,398.28 L247.97,397.44 L248.15,396.59 L248.33,395.74 L248.51,394.89 L248.70,394.04 L248.90,393.18 L249.10,392.33 L249.30,391.48 L249.51,390.63 L249.73,389.77 L249.95,388.92 L250.18,388.06 L250.41,387.21 L250.65,386.35 L250.90,385.49 L251.15,384.63 L251.41,383.77 L251.67,382.91 L251.94,382.05 L252.22,381.19 L252.51,380.32 L252.80,379.46 L253.10,378.59 L253.41,377.72 L253.73,376.85 L254.05,375.98 L254.38,375.11 L254.72,374.23 L255.07,373.36 L255.43,372.48 L255.80,371.60 L256.17,370.73 L256.55,369.86 L256.95,368.99 L257.35,368.13 L257.77,367.28 L258.19,366.43 L258.63,365.59 L259.07,364.76 L259.53,363.94 L260.00,363.13 L260.48,362.33 L260.97,361.55 L261.47,360.78 L261.99,360.03 L262.52,359.30 L263.07,358.58 L263.62,357.88 L264.19,357.20 L264.78,356.54 L265.38,355.91 L265.99,355.30 L266.62,354.71 L267.26,354.15 L267.92,353.61 L268.59,353.10 L269.28,352.62 L269.98,352.17 L270.71,351.75 L271.44,351.36 L272.20,351.01 L272.97,350.69 L273.76,350.40 L274.56,350.15 L275.37,349.94 L276.19,349.77 L277.00,349.65 L277.81,349.58 L278.61,349.55 L279.39,349.58 L280.16,349.66 L280.91,349.80 L281.63,350.00 L282.34,350.24 L283.02,350.54 L283.68,350.88 L284.33,351.28 L284.95,351.71 L285.56,352.19 L286.14,352.71 L286.71,353.26 L287.26,353.85 L287.80,354.47 L288.32,355.13 L288.83,355.81 L289.32,356.52 L289.79,357.25 L290.25,358.01 L290.70,358.78 L291.14,359.57 L291.56,360.38 L291.97,361.20 L292.37,362.04 L292.76,362.88 L293.14,363.73 L293.51,364.58 L293.87,365.44 L294.22,366.29 L294.56,367.15 L294.89,368.01 L295.22,368.87 L295.54,369.73 L295.84,370.59 L296.15,371.45 L296.44,372.32 L296.73,373.18 L297.01,374.05 L297.28,374.91 L297.55,375.78 L297.81,376.65 L298.06,377.52 L298.31,378.39 L298.55,379.25 L298.78,380.12 L299.01,380.99 L299.24,381.87 L299.46,382.74 L299.67,383.61 L299.88,384.48 L300.09,385.35 L300.29,386.23 L300.48,387.10 L300.68,387.97 L300.86,388.84 L301.05,389.72 L301.23,390.59 L301.41,391.47 L301.58,392.34 L301.75,393.21 L301.92,394.09 L302.09,394.96 L302.25,395.83 L302.42,396.71 L302.58,397.58 L302.74,398.45 L302.89,399.32 L303.05,400.20 L303.20,401.07 L303.36,401.94 L303.51,402.81 L303.66,403.68 L303.81,404.55 L303.97,405.42 L304.12,406.29 L304.27,407.16 L304.42,408.03 L304.57,408.90 L304.73,409.76 L304.88,410.63 L305.04,411.49 L305.19,412.36 L305.35,413.22 L305.51,414.08 L305.68,414.95 L305.84,415.81 L306.01,416.67 L306.17,417.53 L306.35,418.38 L306.52,419.24 L306.70,420.10 L306.88,420.95 L307.06,421.80 L307.25,422.66 L307.44,423.51 L307.64,424.36 L307.84,425.20 L308.04,426.05 L308.25,426.89 L308.46,427.74 L308.68,428.58 L308.91,429.42 L309.14,430.26 L309.37,431.10 L309.61,431.93 L309.86,432.77 L310.11,433.60 L310.37,434.43 L310.63,435.26 L310.91,436.09 L311.19,436.91 L311.47,437.74 L311.76,438.56 L312.07,439.38 L312.37,440.20 L312.69,441.01 L313.01,441.82 L313.35,442.64 L313.69,443.45 L314.04,444.25 L314.40,445.06 L314.76,445.86 L315.14,446.66 L315.53,447.46 L315.92,448.25 L316.33,449.05 L316.74,449.84 L317.17,450.63 L317.60,451.41 L318.05,452.19 L318.51,452.97 L318.98,453.74 L319.46,454.51 L319.95,455.26 L320.46,456.01 L320.98,456.74 L321.51,457.46 L322.06,458.16 L322.62,458.85 L323.19,459.53 L323.78,460.18 L324.39,460.81 L325.01,461.43 L325.65,462.01 L326.31,462.58 L326.99,463.12 L327.68,463.63 L328.39,464.11 L329.11,464.57 L329.86,464.99 L330.63,465.39 L331.41,465.75 L332.20,466.09 L333.02,466.39 L333.84,466.68 L334.68,466.93 L335.53,467.16 L336.39,467.36 L337.25,467.54 L338.13,467.70 L339.02,467.83 L339.91,467.95 L340.81,468.04 L341.71,468.11 L342.61,468.16 L343.52,468.19 L344.43,468.20 L345.34,468.19 L346.25,468.17 L347.16,468.13 L348.06,468.07 L348.97,468.00" fill="none" stroke="#3a4c9e" stroke-width="2.7" stroke-linecap="butt" stroke-linejoin="round"/>
<path d="M132.99,467.14 L134.08,467.09 L135.18,467.03 L136.29,466.96 L137.41,466.88 L138.54,466.79 L139.68,466.69 L140.82,466.58 L141.96,466.45 L143.11,466.32 L144.27,466.17 L145.43,466.01 L146.59,465.84 L147.75,465.66 L148.91,465.46 L150.08,465.25 L151.24,465.03 L152.40,464.79 L153.56,464.54 L154.72,464.27 L155.87,463.99 L157.02,463.69 L158.17,463.38 L159.31,463.05 L160.44,462.71 L161.57,462.35 L162.68,461.97 L163.79,461.58 L164.89,461.17 L165.98,460.74 L167.06,460.30 L168.13,459.84 L169.18,459.36 L170.23,458.86 L171.25,458.34 L172.27,457.80 L173.27,457.25 L174.25,456.67 L175.22,456.08 L176.16,455.46 L177.09,454.83 L178.01,454.17 L178.90,453.50 L179.77,452.80 L180.62,452.08 L181.45,451.34 L182.25,450.57 L183.04,449.79 L183.80,448.98 L184.53,448.15 L185.24,447.29 L185.92,446.42 L186.58,445.52 L187.22,444.60 L187.83,443.66 L188.43,442.71 L189.00,441.73 L189.55,440.74 L190.08,439.73 L190.59,438.71 L191.08,437.67 L191.56,436.62 L192.02,435.56 L192.46,434.48 L192.89,433.39 L193.30,432.30 L193.70,431.19 L194.08,430.07 L194.45,428.95 L194.81,427.82 L195.16,426.69 L195.50,425.54 L195.83,424.40 L196.14,423.25 L196.45,422.10 L196.75,420.95 L197.05,419.79 L197.34,418.64 L197.62,417.49 L197.90,416.34 L198.17,415.19 L198.44,414.04 L198.70,412.90 L198.97,411.77 L199.23,410.64 L199.49,409.51 L199.75,408.39 L200.01,407.27 L200.27,406.15 L200.54,405.04 L200.80,403.93 L201.07,402.82 L201.34,401.72 L201.62,400.61 L201.90,399.51 L202.18,398.41 L202.47,397.30 L202.77,396.20 L203.08,395.10 L203.39,393.99 L203.71,392.89 L204.04,391.78 L204.38,390.67 L204.73,389.56 L205.09,388.44 L205.47,387.33 L205.85,386.20 L206.25,385.08 L206.67,383.95 L207.09,382.81 L207.53,381.68 L207.99,380.54 L208.48,379.41 L208.98,378.30 L209.51,377.21 L210.07,376.15 L210.67,375.12 L211.30,374.14 L211.97,373.21 L212.68,372.33 L213.44,371.52 L214.24,370.77 L215.08,370.09 L215.96,369.48 L216.87,368.94 L217.82,368.47 L218.79,368.07 L219.79,367.75 L220.81,367.50 L221.85,367.32 L222.90,367.22 L223.97,367.20 L225.05,367.25 L226.13,367.37 L227.21,367.55 L228.29,367.79 L229.35,368.07 L230.40,368.40 L231.44,368.76 L232.46,369.16 L233.47,369.60 L234.47,370.07 L235.45,370.58 L236.42,371.11 L237.37,371.68 L238.32,372.28 L239.25,372.90 L240.18,373.55 L241.09,374.23 L241.99,374.93 L242.89,375.65 L243.77,376.39 L244.65,377.15 L245.52,377.93 L246.39,378.73 L247.24,379.54 L248.09,380.37 L248.94,381.21 L249.78,382.06 L250.62,382.92 L251.45,383.79 L252.28,384.67 L253.10,385.56 L253.93,386.44 L254.75,387.34 L255.57,388.23 L256.39,389.12 L257.21,390.02 L258.02,390.91 L258.84,391.80 L259.67,392.68 L260.49,393.56 L261.31,394.43 L262.14,395.29 L262.97,396.14 L263.80,396.98 L264.64,397.81 L265.48,398.63 L266.33,399.44 L267.18,400.24 L268.03,401.04 L268.89,401.82 L269.74,402.59 L270.61,403.35 L271.48,404.10 L272.35,404.85 L273.22,405.58 L274.10,406.31 L274.99,407.03 L275.88,407.74 L276.77,408.44 L277.67,409.13 L278.57,409.82 L279.47,410.50 L280.38,411.17 L281.30,411.83 L282.22,412.49 L283.14,413.14 L284.07,413.78 L285.01,414.42 L285.94,415.04 L286.89,415.67 L287.84,416.28 L288.79,416.89 L289.75,417.49 L290.71,418.09 L291.68,418.68 L292.65,419.27 L293.63,419.85 L294.61,420.42 L295.60,420.98 L296.59,421.54 L297.58,422.10 L298.58,422.64 L299.58,423.19 L300.59,423.72 L301.60,424.25 L302.61,424.78 L303.63,425.29 L304.66,425.81 L305.68,426.31 L306.71,426.81 L307.74,427.31 L308.78,427.80 L309.82,428.28 L310.87,428.76 L311.91,429.23 L312.96,429.70 L314.02,430.16 L315.08,430.62 L316.14,431.07 L317.20,431.51 L318.26,431.95 L319.33,432.39 L320.41,432.82 L321.48,433.24 L322.56,433.66 L323.64,434.07 L324.72,434.48 L325.80,434.88 L326.89,435.28 L327.98,435.67 L329.07,436.06 L330.17,436.45 L331.27,436.82 L332.36,437.20 L333.47,437.56 L334.57,437.93 L335.67,438.29 L336.78,438.64 L337.89,438.99 L339.00,439.33 L340.11,439.67 L341.22,440.00 L342.34,440.33 L343.46,440.66 L344.57,440.98 L345.69,441.30 L346.81,441.61 L347.94,441.92 L349.06,442.22 L350.18,442.52 L351.31,442.81 L352.43,443.10 L353.56,443.39 L354.69,443.67 L355.82,443.94 L356.95,444.22 L358.08,444.48 L359.21,444.75 L360.34,445.01 L361.47,445.26 L362.60,445.52 L363.73,445.76 L364.86,446.01 L366.00,446.25 L367.13,446.48 L368.26,446.72 L369.39,446.94 L370.53,447.17 L371.66,447.39 L372.79,447.61 L373.92,447.82 L375.06,448.03 L376.19,448.24 L377.32,448.44 L378.45,448.64 L379.58,448.83 L380.71,449.02 L381.83,449.21 L382.96,449.40 L384.09,449.58 L385.21,449.76 L386.34,449.93 L387.46,450.10 L388.58,450.27 L389.71,450.44 L390.83,450.60 L391.94,450.76 L393.06,450.91" fill="none" stroke="#62c4d8" stroke-width="2.7" stroke-linecap="butt" stroke-linejoin="round"/>
<path d="M95.00,467.60 L96.58,467.53 L98.19,467.47 L99.81,467.41 L101.45,467.34 L103.08,467.28 L104.70,467.22 L106.31,467.15 L107.89,467.09 L109.44,467.02 L110.95,466.95 L112.40,466.88 L113.80,466.80 L114.85,466.74 L115.87,466.68 L116.89,466.63 L117.88,466.57 L118.85,466.51 L119.80,466.45 L120.73,466.39 L121.63,466.32 L122.51,466.25 L123.37,466.17 L124.20,466.09 L125.00,466.00 L125.57,465.93 L126.12,465.86 L126.66,465.79 L127.18,465.72 L127.68,465.65 L128.18,465.57 L128.66,465.49 L129.14,465.40 L129.61,465.31 L130.08,465.21 L130.54,465.11 L131.00,465.00 L131.40,464.90 L131.81,464.80 L132.20,464.69 L132.59,464.58 L132.98,464.47 L133.36,464.35 L133.74,464.23 L134.10,464.10 L134.47,463.96 L134.82,463.82 L135.16,463.66 L135.50,463.50 L135.80,463.34 L136.09,463.18 L136.37,463.02 L136.65,462.85 L136.92,462.67 L137.18,462.48 L137.44,462.29 L137.70,462.09 L137.95,461.88 L138.20,461.67 L138.45,461.44 L138.70,461.20 L138.98,460.91 L139.26,460.61 L139.53,460.29 L139.80,459.95 L140.07,459.61 L140.33,459.25 L140.59,458.89 L140.84,458.52 L141.09,458.15 L141.33,457.77 L141.57,457.38 L141.80,457.00 L142.04,456.58 L142.28,456.16 L142.52,455.73 L142.75,455.30 L142.97,454.85 L143.19,454.40 L143.40,453.95 L143.61,453.49 L143.81,453.02 L144.01,452.55 L144.21,452.08 L144.40,451.60 L144.60,451.08 L144.80,450.55 L144.99,450.02 L145.17,449.48 L145.35,448.94 L145.52,448.39 L145.69,447.83 L145.86,447.27 L146.02,446.71 L146.18,446.14 L146.34,445.57 L146.50,445.00 L146.67,444.39 L146.83,443.79 L146.98,443.20 L147.13,442.60 L147.28,442.00 L147.42,441.39 L147.57,440.77 L147.71,440.12 L147.86,439.46 L148.00,438.77 L148.15,438.05 L148.30,437.30 L148.53,436.10 L148.77,434.81 L149.02,433.45 L149.27,432.03 L149.52,430.56 L149.77,429.05 L150.02,427.52 L150.25,425.98 L150.49,424.45 L150.70,422.93 L150.91,421.44 L151.10,420.00 L151.27,418.65 L151.42,417.32 L151.56,415.99 L151.70,414.68 L151.82,413.36 L151.94,412.05 L152.05,410.74 L152.16,409.42 L152.27,408.08 L152.38,406.74 L152.49,405.38 L152.60,404.00 L152.72,402.48 L152.84,400.95 L152.96,399.40 L153.07,397.84 L153.18,396.27 L153.29,394.69 L153.39,393.10 L153.50,391.50 L153.60,389.89 L153.70,388.27 L153.80,386.64 L153.90,385.00 L154.00,383.22 L154.10,381.43 L154.19,379.61 L154.27,377.79 L154.36,375.95 L154.44,374.10 L154.53,372.25 L154.62,370.39 L154.70,368.54 L154.80,366.68 L154.90,364.84 L155.00,363.00 L155.11,361.15 L155.23,359.26 L155.35,357.34 L155.47,355.42 L155.60,353.50 L155.73,351.58 L155.86,349.70 L155.99,347.84 L156.12,346.03 L156.25,344.28 L156.37,342.60 L156.50,341.00 L156.59,339.89 L156.69,338.84 L156.78,337.85 L156.88,336.89 L156.97,335.96 L157.06,335.05 L157.16,334.13 L157.25,333.19 L157.34,332.22 L157.43,331.21 L157.52,330.14 L157.60,329.00 L157.71,327.23 L157.82,325.33 L157.92,323.34 L158.01,321.26 L158.10,319.12 L158.19,316.93 L158.27,314.72 L158.37,312.51 L158.46,310.31 L158.57,308.14 L158.68,306.04 L158.80,304.00 L158.92,302.20 L159.05,300.45 L159.18,298.75 L159.32,297.06 L159.46,295.39 L159.61,293.72 L159.76,292.04 L159.91,290.33 L160.06,288.58 L160.21,286.79 L160.35,284.93 L160.50,283.00 L160.69,280.36 L160.87,277.55 L161.06,274.60 L161.24,271.56 L161.43,268.46 L161.62,265.33 L161.81,262.21 L162.00,259.14 L162.19,256.15 L162.39,253.27 L162.59,250.54 L162.80,248.00 L162.95,246.29 L163.11,244.64 L163.26,243.04 L163.42,241.50 L163.58,239.99 L163.74,238.52 L163.90,237.08 L164.06,235.66 L164.22,234.24 L164.38,232.84 L164.54,231.42 L164.70,230.00 L164.84,228.69 L164.96,227.39 L165.09,226.09 L165.20,224.80 L165.32,223.52 L165.44,222.25 L165.57,221.00 L165.70,219.76 L165.85,218.54 L166.01,217.34 L166.20,216.16 L166.40,215.00 L166.59,214.02 L166.79,213.06 L167.00,212.11 L167.22,211.18 L167.45,210.27 L167.69,209.36 L167.94,208.47 L168.19,207.58 L168.46,206.70 L168.73,205.83 L169.01,204.96 L169.30,204.10 L169.58,203.29 L169.86,202.48 L170.16,201.67 L170.45,200.88 L170.76,200.09 L171.07,199.30 L171.40,198.53 L171.73,197.76 L172.08,197.01 L172.44,196.26 L172.81,195.52 L173.20,194.80 L173.59,194.11 L173.99,193.43 L174.41,192.77 L174.83,192.11 L175.27,191.46 L175.72,190.82 L176.17,190.18 L176.64,189.56 L177.12,188.94 L177.60,188.32 L178.10,187.71 L178.60,187.10 L179.12,186.48 L179.64,185.87 L180.17,185.27 L180.71,184.67 L181.26,184.08 L181.81,183.49 L182.39,182.91 L182.97,182.33 L183.57,181.77 L184.20,181.20 L184.84,180.65 L185.50,180.10 L186.29,179.48 L187.10,178.86 L187.95,178.25 L188.82,177.64 L189.71,177.04 L190.62,176.45 L191.55,175.88 L192.49,175.31 L193.43,174.76 L194.39,174.22 L195.34,173.70 L196.30,173.20 L197.29,172.70 L198.29,172.22 L199.31,171.75 L200.34,171.30 L201.38,170.86 L202.43,170.43 L203.48,170.02 L204.54,169.63 L205.59,169.25 L206.63,168.88 L207.67,168.53 L208.70,168.20 L209.65,167.91 L210.58,167.63 L211.50,167.38 L212.42,167.14 L213.34,166.92 L214.26,166.70 L215.18,166.50 L216.12,166.29 L217.06,166.10 L218.02,165.90 L219.00,165.70 L220.00,165.50 L221.16,165.27 L222.33,165.04 L223.50,164.82 L224.69,164.61 L225.90,164.40 L227.12,164.19 L228.36,163.99 L229.63,163.79 L230.93,163.59 L232.25,163.39 L233.61,163.20 L235.00,163.00 L236.84,162.75 L238.71,162.51 L240.63,162.27 L242.59,162.03 L244.59,161.80 L246.64,161.57 L248.74,161.34 L250.89,161.11 L253.09,160.88 L255.34,160.66 L257.64,160.43 L260.00,160.20 L263.27,159.89 L266.70,159.57 L270.26,159.24 L273.94,158.91 L277.70,158.59 L281.53,158.27 L285.41,157.95 L289.31,157.65 L293.21,157.36 L297.09,157.08 L300.93,156.83 L304.70,156.60 L308.42,156.39 L312.13,156.21 L315.83,156.04 L319.53,155.88 L323.22,155.75 L326.92,155.62 L330.64,155.50 L334.36,155.39 L338.11,155.29 L341.88,155.19 L345.67,155.10 L349.50,155.00 L353.57,154.91 L357.64,154.83 L361.70,154.76 L365.78,154.70 L369.87,154.65 L374.00,154.60 L378.17,154.55 L382.39,154.51 L386.68,154.47 L391.03,154.42 L395.47,154.36 L400.00,154.30 L405.55,154.22 L411.26,154.13 L417.09,154.05 L423.04,153.96 L429.07,153.87 L435.17,153.77 L441.32,153.68 L447.49,153.58 L453.67,153.49 L459.82,153.39 L465.94,153.30 L472.00,153.20 L478.07,153.10 L484.14,153.01 L490.21,152.91 L496.30,152.81 L502.38,152.71 L508.47,152.61 L514.56,152.50 L520.65,152.40 L526.74,152.30 L532.83,152.20 L538.92,152.10 L545.00,152.00" fill="none" stroke="#000000" stroke-width="3.0" stroke-linecap="butt" stroke-linejoin="round"/>
<path d="M95,137 H545 V468 H95 Z" fill="none" stroke="#000" stroke-width="2"/>
<path d="M151.25,468 v-3.8 M151.25,137 v3.8 M207.50,468 v-6.7 M207.50,137 v6.7 M263.75,468 v-3.8 M263.75,137 v3.8 M320.00,468 v-6.7 M320.00,137 v6.7 M376.25,468 v-3.8 M376.25,137 v3.8 M432.50,468 v-6.7 M432.50,137 v6.7 M488.75,468 v-3.8 M488.75,137 v3.8 M95,435.10 h3.8 M545,435.10 h-3.8 M95,402.00 h6.7 M545,402.00 h-6.7 M95,368.90 h3.8 M545,368.90 h-3.8 M95,335.80 h6.7 M545,335.80 h-6.7 M95,302.70 h3.8 M545,302.70 h-3.8 M95,269.60 h6.7 M545,269.60 h-6.7 M95,236.50 h3.8 M545,236.50 h-3.8 M95,203.40 h6.7 M545,203.40 h-6.7 M95,170.30 h3.8 M545,170.30 h-3.8" stroke="#000" stroke-width="1.3" fill="none"/>
<rect x="417.5" y="356.9" width="117.5" height="101.6" fill="#fff" stroke="#6a6a6a" stroke-width="1.1"/>
<line x1="426.3" y1="368.9" x2="462.7" y2="368.9" stroke="#000000" stroke-width="2.6" stroke-linecap="round"/>
<line x1="426.3" y1="389.0" x2="462.7" y2="389.0" stroke="#e8242a" stroke-width="2.6" stroke-linecap="round"/>
<line x1="426.3" y1="409.2" x2="462.7" y2="409.2" stroke="#68b844" stroke-width="2.6" stroke-linecap="round"/>
<line x1="426.3" y1="429.3" x2="462.7" y2="429.3" stroke="#3a4c9e" stroke-width="2.6" stroke-linecap="round"/>
<line x1="426.3" y1="449.5" x2="462.7" y2="449.5" stroke="#62c4d8" stroke-width="2.6" stroke-linecap="round"/>
<g transform="matrix(1.0840,0,0,0.9270,110.912,10.900)"><text x="0" y="0" font-size="12" fill="#000">1</text></g>
<g transform="matrix(1.0840,0,0,0.9270,111.548,80.350)"><text x="0" y="0" font-size="12" fill="#000">0</text></g>
<g transform="matrix(1.0840,0,0,0.9270,234.212,10.100)"><text x="0" y="0" font-size="12" fill="#000">1</text></g>
<g transform="matrix(1.0840,0,0,0.9270,235.098,54.500)"><text x="0" y="0" font-size="12" fill="#000">0</text></g>
<g transform="matrix(1.0840,0,0,0.9270,234.765,99.100)"><text x="0" y="0" font-size="12" fill="#000">-1</text></g>
<g transform="matrix(1.0840,0,0,0.9270,361.712,10.100)"><text x="0" y="0" font-size="12" fill="#000">1</text></g>
<g transform="matrix(1.0840,0,0,0.9270,361.748,54.500)"><text x="0" y="0" font-size="12" fill="#000">0</text></g>
<g transform="matrix(1.0840,0,0,0.9270,361.965,99.400)"><text x="0" y="0" font-size="12" fill="#000">-1</text></g>
<g transform="matrix(1.0840,0,0,0.9270,488.412,10.100)"><text x="0" y="0" font-size="12" fill="#000">1</text></g>
<g transform="matrix(1.0840,0,0,0.9270,488.798,54.500)"><text x="0" y="0" font-size="12" fill="#000">0</text></g>
<g transform="matrix(1.0840,0,0,0.9270,488.765,99.100)"><text x="0" y="0" font-size="12" fill="#000">-1</text></g>
<g transform="matrix(1.0840,0,0,0.9270,615.312,10.100)"><text x="0" y="0" font-size="12" fill="#000">1</text></g>
<g transform="matrix(1.0840,0,0,0.9270,615.598,54.500)"><text x="0" y="0" font-size="12" fill="#000">0</text></g>
<g transform="matrix(1.0840,0,0,0.9270,615.165,99.100)"><text x="0" y="0" font-size="12" fill="#000">-1</text></g>
<g transform="matrix(1.0043,0,0,0.9530,41.516,117.010)"><text x="0" y="0" font-size="22" fill="#000">A</text></g>
<g transform="matrix(1.0043,0,0,0.9530,168.445,117.200)"><text x="0" y="0" font-size="22" fill="#e42428">B</text></g>
<g transform="matrix(1.0043,0,0,0.9530,298.482,117.290)"><text x="0" y="0" font-size="22" fill="#6cb84a">C</text></g>
<g transform="matrix(1.0043,0,0,0.9530,423.654,116.700)"><text x="0" y="0" font-size="22" fill="#3a4c9e">D</text></g>
<g transform="matrix(1.0043,0,0,0.9530,554.372,116.700)"><text x="0" y="0" font-size="22" fill="#62c4d8">E</text></g>
<g transform="matrix(1.0351,0,0,0.9931,79.000,487.802)"><text x="0" y="0" font-size="16" fill="#000">1.02</text></g>
<g transform="matrix(1.0351,0,0,0.9931,191.377,487.752)"><text x="0" y="0" font-size="16" fill="#000">1.04</text></g>
<g transform="matrix(1.0351,0,0,0.9931,307.006,487.952)"><text x="0" y="0" font-size="16" fill="#000">1.06</text></g>
<g transform="matrix(1.0351,0,0,0.9931,415.821,487.952)"><text x="0" y="0" font-size="16" fill="#000">1.08</text></g>
<g transform="matrix(1.0351,0,0,0.9931,530.271,487.752)"><text x="0" y="0" font-size="16" fill="#000">1.10</text></g>
<g transform="matrix(1.0884,0,0,0.9665,79.673,472.524)"><text x="0" y="0" font-size="16" fill="#000">0</text></g>
<g transform="matrix(1.0884,0,0,0.9665,66.383,408.664)"><text x="0" y="0" font-size="16" fill="#000">0.2</text></g>
<g transform="matrix(1.0884,0,0,0.9665,65.903,341.514)"><text x="0" y="0" font-size="16" fill="#000">0.4</text></g>
<g transform="matrix(1.0884,0,0,0.9665,66.375,275.214)"><text x="0" y="0" font-size="16" fill="#000">0.6</text></g>
<g transform="matrix(1.0884,0,0,0.9665,66.311,208.064)"><text x="0" y="0" font-size="16" fill="#000">0.8</text></g>
<g transform="matrix(1.0884,0,0,0.9665,66.811,140.864)"><text x="0" y="0" font-size="16" fill="#000">1.0</text></g>
<g transform="matrix(1.0308,0,0,1.0133,244.777,179.800)"><text x="0" y="0" font-size="20" fill="#000">A</text></g>
<g transform="matrix(1.0308,0,0,1.0133,123.950,211.300)"><text x="0" y="0" font-size="20" fill="#e8242a">B</text></g>
<g transform="matrix(1.0308,0,0,1.0133,371.486,197.600)"><text x="0" y="0" font-size="20" fill="#68b844">C</text></g>
<g transform="matrix(1.0308,0,0,1.0133,273.156,342.450)"><text x="0" y="0" font-size="20" fill="#3a4c9e">D</text></g>
<g transform="matrix(1.0308,0,0,1.0133,215.580,361.000)"><text x="0" y="0" font-size="20" fill="#62c4d8">E</text></g>
<g transform="matrix(1.0633,0,0,0.9333,467.306,373.700)"><text x="0" y="0" font-size="16" fill="#000">FM</text></g>
<g transform="matrix(1.0633,0,0,0.9333,467.368,393.600)"><text x="0" y="0" font-size="16" fill="#000">LP 11 (1)</text></g>
<g transform="matrix(1.0633,0,0,0.9333,467.368,413.700)"><text x="0" y="0" font-size="16" fill="#000">LP 11 (2)</text></g>
<g transform="matrix(1.0633,0,0,0.9333,467.368,433.800)"><text x="0" y="0" font-size="16" fill="#000">LP 11 (3)</text></g>
<g transform="matrix(1.0633,0,0,0.9333,467.368,453.900)"><text x="0" y="0" font-size="16" fill="#000">LP 11 (4)</text></g>
<g transform="matrix(0.9900,0,0,1.0022,257.900,512.549)"><text x="0" y="0" font-size="17" fill="#000">Wavelength (&#956;m)</text></g>
<g transform="matrix(0.9041,0,0,0.9773,43.923,349.333)"><text x="0" y="0" font-size="17" fill="#000" transform="rotate(-90)">Core overlap</text></g>
<g transform="matrix(1.1070,0,0,0.9860,226.755,151.677)"><text x="0" y="0" font-size="16" fill="#8c8c8c">SM</text></g>
<g transform="matrix(1.0255,0,0,0.9429,333.487,151.400)"><text x="0" y="0" font-size="16" fill="#8c8c8c">MM</text></g>
</svg></body></html>
